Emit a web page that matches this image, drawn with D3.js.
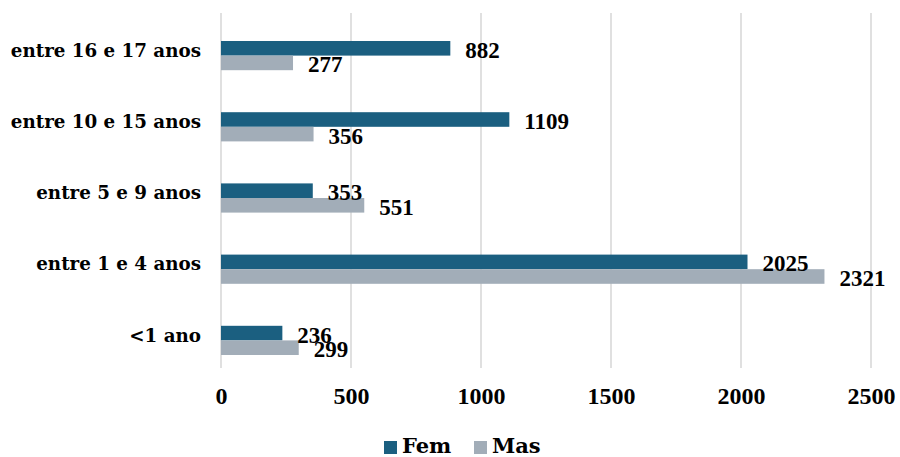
<!DOCTYPE html>
<html>
<head>
<meta charset="utf-8">
<script src="https://cdn.jsdelivr.net/npm/d3@7"></script>
<style>
  html, body { margin: 0; padding: 0; background: #fff; }
  svg { display: block; }
</style>
</head>
<body>
<svg id="chart" width="900" height="457"></svg>
<script>
// Age groups, drawn top to bottom
const categories = ["entre 16 e 17 anos", "entre 10 e 15 anos", "entre 5 e 9 anos", "entre 1 e 4 anos", "<1 ano"];
const seriesNames = ["Fem", "Mas"];
const femValues = [882, 1109, 353, 2025, 236];
const masValues = [277, 356, 551, 2321, 299];
const xTicks = [0, 500, 1000, 1500, 2000, 2500];

const colors = { Fem: "#1b5f80", Mas: "#a2adb8" };
const series = { Fem: femValues, Mas: masValues };

const svg = d3.select("#chart");

const x = d3.scaleLinear().domain([0, 2500]).range([221, 871]);
const y = d3.scaleBand().domain(categories).range([20, 376]).paddingInner(0.59).paddingOuter(0.295);
const ySub = d3.scaleBand().domain(seriesNames).range([0, y.bandwidth()]);

// Vertical gridlines
svg.append("g")
  .selectAll("line")
  .data(xTicks)
  .join("line")
  .attr("x1", d => x(d)).attr("x2", d => x(d))
  .attr("y1", 13).attr("y2", 368)
  .attr("stroke", "#d9d9d9")
  .attr("stroke-width", 1.6);

// X axis tick labels
const xAxis = d3.axisBottom(x).tickValues(xTicks).tickFormat(d3.format("d")).tickSize(0).tickPadding(0);
const gx = svg.append("g").attr("transform", "translate(0,387)").call(xAxis);
gx.select(".domain").remove();
gx.selectAll("text")
  .attr("dy", "0.72em")
  .attr("fill", "#000")
  .style("font-family", "'Liberation Serif', serif")
  .style("font-weight", "bold")
  .style("font-size", "24px");

// Category labels
const yAxis = d3.axisLeft(y).tickSize(0).tickPadding(0);
const gy = svg.append("g").attr("transform", "translate(201,0)").call(yAxis);
gy.select(".domain").remove();
gy.selectAll("text")
  .attr("dy", "0.06em")
  .attr("fill", "#000")
  .style("font-family", "'DejaVu Serif', serif")
  .style("font-weight", "bold")
  .style("font-size", "18.3px");

// Bars and value labels
const rows = categories.map((c, i) => seriesNames.map(s => ({ cat: c, s, v: series[s][i] }))).flat();

const groups = svg.append("g");
groups.selectAll("rect")
  .data(rows)
  .join("rect")
  .attr("x", x(0))
  .attr("y", d => y(d.cat) + ySub(d.s))
  .attr("width", d => x(d.v) - x(0))
  .attr("height", ySub.bandwidth())
  .attr("fill", d => colors[d.s]);

groups.selectAll("text")
  .data(rows)
  .join("text")
  .attr("x", d => x(d.v) + 15)
  .attr("y", d => y(d.cat) + ySub(d.s) + ySub.bandwidth() / 2 + 9.5)
  .attr("fill", "#000")
  .style("font-family", "'Liberation Serif', serif")
  .style("font-weight", "bold")
  .style("font-size", "23px")
  .text(d => d.v);

// Legend
const legendX = { Fem: 384, Mas: 474 };
const legend = svg.append("g");
seriesNames.forEach(s => {
  legend.append("rect")
    .attr("x", legendX[s]).attr("y", 441)
    .attr("width", 13).attr("height", 13)
    .attr("fill", colors[s]);
  legend.append("text")
    .attr("x", legendX[s] + 18).attr("y", 453)
    .attr("fill", "#000")
    .style("font-family", "'DejaVu Serif', serif")
    .style("font-weight", "bold")
    .style("font-size", "21px")
    .text(s);
});
</script>
</body>
</html>
